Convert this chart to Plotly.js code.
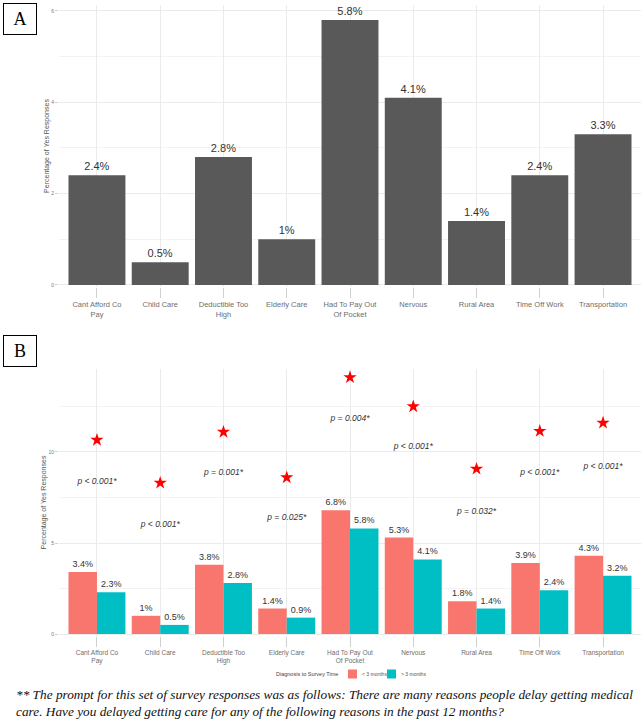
<!DOCTYPE html>
<html><head><meta charset="utf-8">
<script src="https://cdn.plot.ly/plotly-3.0.1.min.js"></script>
<style>body{margin:0;background:#fff}#chart{width:643px;height:720px}</style>
</head><body><div id="chart"></div>
<script>
const categories = ["Cant Afford Co Pay","Child Care","Deductible Too High","Elderly Care","Had To Pay Out Of Pocket","Nervous","Rural Area","Time Off Work","Transportation"];
const tickLabels = ["Cant Afford Co<br>Pay","Child Care","Deductible Too<br>High","Elderly Care","Had To Pay Out<br>Of Pocket","Nervous","Rural Area","Time Off Work","Transportation"];
const overallPct = [2.4,0.5,2.8,1,5.8,4.1,1.4,2.4,3.3];
const under3Pct = [3.4,1,3.8,1.4,6.8,5.3,1.8,3.9,4.3];
const over3Pct = [2.3,0.5,2.8,0.9,5.8,4.1,1.4,2.4,3.2];
const pLabels = ["p < 0.001*","p < 0.001*","p = 0.001*","p = 0.025*","p = 0.004*","p < 0.001*","p = 0.032*","p < 0.001*","p < 0.001*"];
const starY = [10.66,8.3,11.1,8.6,14.1,12.5,9.07,11.15,11.6];
const pLabelY = [8.35,6.0,8.85,6.4,11.8,10.3,6.7,8.85,9.2];
const legendTitle = "Diagnosis to Survey Time";
const legendNames = ["< 3 months","> 3 months"];
const seriesColors = ["#F8766D","#00BFC4"];
const yTitle = "Percentage of Yes Responses";
const footnote = "** The prompt for this set of survey responses was as follows: There are many reasons people delay getting medical<br>care. Have you delayed getting care for any of the following reasons in the past 12 months?";

const W = 643, H = 720;
const px = v => v / W, py = v => 1 - v / H;
const FONT = "Liberation Sans, Arial, sans-serif";
const pct = a => a.map(v => v + "%");

const traces = [
  {type:"bar", x:categories, y:overallPct, xaxis:"x", yaxis:"y", marker:{color:"#595959"},
   text:pct(overallPct), textposition:"outside", textfont:{size:11, color:"#333", family:FONT},
   cliponaxis:false, showlegend:false, hoverinfo:"skip"},
  {type:"bar", x:categories, y:under3Pct, xaxis:"x2", yaxis:"y2", name:legendNames[0], marker:{color:seriesColors[0]},
   text:pct(under3Pct), textposition:"outside", textfont:{size:9, color:"#333", family:FONT},
   cliponaxis:false, offsetgroup:"a", showlegend:false},
  {type:"bar", x:categories, y:over3Pct, xaxis:"x2", yaxis:"y2", name:legendNames[1], marker:{color:seriesColors[1]},
   text:pct(over3Pct), textposition:"outside", textfont:{size:9, color:"#333", family:FONT},
   cliponaxis:false, offsetgroup:"b", showlegend:false},
  {type:"scatter", mode:"markers", x:categories, y:starY, xaxis:"x2", yaxis:"y2",
   marker:{symbol:"star", size:10, color:"red"}, showlegend:false, cliponaxis:false},
  {type:"scatter", mode:"text", x:categories, y:pLabelY, xaxis:"x2", yaxis:"y2",
   text:pLabels, textfont:{size:8.5, color:"#333", family:FONT, style:"italic"}, showlegend:false, cliponaxis:false}
];

const xcommon = {type:"category", range:[-0.6, 8.6], domain:[px(59), px(641)],
  tickvals:categories, ticktext:tickLabels, showgrid:true, gridcolor:"#ebebeb", gridwidth:1,
  zeroline:false, showline:false, ticks:"outside", ticklen:10, tickcolor:"#d0d0d0",
  tickfont:{size:7.5, color:"#6e6e6e", family:FONT}};

// manual legend (swatches + labels)
const legShapes = [348, 387].map((x0, i) => ({type:"rect", xref:"paper", yref:"paper",
  x0:px(x0), x1:px(x0 + 9), y0:py(678.5), y1:py(669.5), fillcolor:seriesColors[i], line:{width:0}}));
const legAnn = [
  {text:legendTitle, x:px(340), xanchor:"right", size:5.5, color:"#444"},
  {text:legendNames[0], x:px(359.5), xanchor:"left", size:5, color:"#555"},
  {text:legendNames[1], x:px(398.5), xanchor:"left", size:5, color:"#555"}
].map(a => ({text:a.text, xref:"paper", yref:"paper", x:a.x, xanchor:a.xanchor, y:py(674), yanchor:"middle",
  showarrow:false, font:{size:a.size, color:a.color, family:FONT}}));

const layout = {
  width:W, height:H, margin:{l:0,r:0,t:0,b:0}, paper_bgcolor:"#fff", plot_bgcolor:"#fff",
  font:{family:FONT}, bargap:0.1, bargroupgap:0, barmode:"group", showlegend:false,
  xaxis: Object.assign({}, xcommon, {anchor:"y"}),
  xaxis2: Object.assign({}, xcommon, {anchor:"y2", tickfont:{size:6.5, color:"#6e6e6e", family:FONT}}),
  yaxis: {domain:[py(287), py(5)], range:[-0.044, 6.13], dtick:2, tick0:0, showgrid:true, gridcolor:"#ebebeb",
    zeroline:false, ticks:"outside", ticklen:3, tickcolor:"#d0d0d0", tickfont:{size:5, color:"#777"},
    minor:{dtick:1, tick0:0, showgrid:true, gridcolor:"#f3f3f3"}, anchor:"x",
    title:{text:yTitle, font:{size:7, color:"#555"}, standoff:0}},
  yaxis2: {domain:[py(636), py(369)], range:[-0.11, 14.56], dtick:5, tick0:0, showgrid:true, gridcolor:"#ebebeb",
    zeroline:false, ticks:"outside", ticklen:3, tickcolor:"#d0d0d0", tickfont:{size:5, color:"#777"},
    minor:{dtick:2.5, tick0:0, showgrid:true, gridcolor:"#f3f3f3"}, anchor:"x2",
    title:{text:yTitle, font:{size:7, color:"#555"}, standoff:0}},
  shapes: legShapes,
  annotations:[
    {text:"A", xref:"paper", yref:"paper", x:px(20), y:py(19), xanchor:"center", yanchor:"middle", showarrow:false,
     font:{family:"Liberation Serif, Times New Roman, serif", size:18, color:"#000"}, bordercolor:"#000", borderwidth:1,
     width:32, height:30, borderpad:0, bgcolor:"#fff"},
    {text:"B", xref:"paper", yref:"paper", x:px(20), y:py(351), xanchor:"center", yanchor:"middle", showarrow:false,
     font:{family:"Liberation Serif, Times New Roman, serif", size:18, color:"#000"}, bordercolor:"#000", borderwidth:1,
     width:32, height:30, borderpad:0, bgcolor:"#fff"},
    {text:footnote, xref:"paper", yref:"paper", x:px(14), y:py(702.5), xanchor:"left", yanchor:"middle", align:"left",
     showarrow:false, font:{family:"Liberation Serif, Times New Roman, serif", size:13.3, color:"#111", style:"italic"}}
  ].concat(legAnn)
};

Plotly.newPlot("chart", traces, layout, {displayModeBar:false, staticPlot:true});
</script>
</body></html>
